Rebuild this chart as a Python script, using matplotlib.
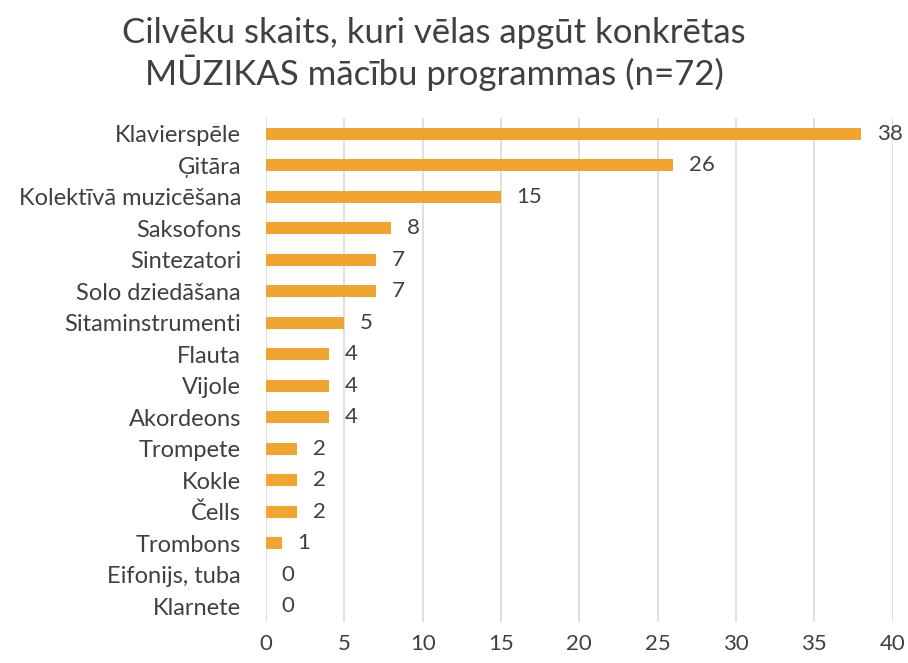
import matplotlib
matplotlib.use('Agg')
import matplotlib.pyplot as plt

plt.rcParams['font.family'] = ['Lato', 'DejaVu Sans']

# categories top to bottom
categories = ['Klavierspēle', 'Ģitāra', 'Kolektīvā muzicēšana', 'Saksofons',
              'Sintezatori', 'Solo dziedāšana', 'Sitaminstrumenti', 'Flauta',
              'Vijole', 'Akordeons', 'Trompete', 'Kokle', 'Čells', 'Trombons',
              'Eifonijs, tuba', 'Klarnete']
counts = [38, 26, 15, 8, 7, 7, 5, 4, 4, 4, 2, 2, 2, 1, 0, 0]
xticks = [0, 5, 10, 15, 20, 25, 30, 35, 40]

bar_color = '#F2A431'
text_color = '#404040'

fig = plt.figure(figsize=(9.08, 6.63), dpi=100)
ax = fig.add_axes([0.293, 0.062, 0.690, 0.760])

ypos = list(range(len(categories)))
ax.barh(ypos, counts, height=0.38, color=bar_color, zorder=3)

for y, v in zip(ypos, counts):
    ax.text(v + 1.0, y, str(v), va='center', ha='left', fontsize=16, color=text_color)

ax.set_yticks(ypos)
ax.set_yticklabels(categories, fontsize=17, color=text_color)
ax.set_ylim(len(categories) - 0.5, -0.5)
ax.set_xlim(0, 40)
ax.set_xticks(xticks)
ax.set_xticklabels([str(t) for t in xticks], fontsize=16, color=text_color)
ax.tick_params(axis='both', length=0)
ax.tick_params(axis='x', pad=9)
ax.tick_params(axis='y', pad=18)
ax.grid(axis='x', color='#D9D9D9', linewidth=1.2, zorder=0)
for s in ax.spines.values():
    s.set_visible(False)

fig.text(0.478, 0.975, 'Cilvēku skaits, kuri vēlas apgūt konkrētas\nMŪZIKAS mācību programmas (n=72)',
         ha='center', va='top', fontsize=25, color=text_color, linespacing=1.2)

plt.savefig('out.png', dpi=100)
